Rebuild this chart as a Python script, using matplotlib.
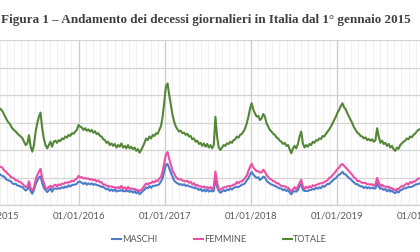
import matplotlib
matplotlib.use("Agg")
import matplotlib.pyplot as plt
import matplotlib.dates as mdates
import pandas as pd

# weekly samples (deaths per day), starting 01/01/2015
start = "2015-01-01"
step_days = 7

totale = [
    2280, 2300, 2250, 2290, 2260, 2240, 2200, 2140, 2080, 2020,
    1990, 1940, 1890, 1860, 1835, 1800, 1770, 1745, 1715, 1650,
    1590, 1620, 1770, 1560, 1470, 1590, 1830, 1985, 2105, 2180,
    1895, 1710, 1590, 1530, 1590, 1650, 1560, 1650, 1670, 1630,
    1680, 1660, 1710, 1695, 1745, 1725, 1775, 1755, 1805, 1795,
    1835, 1865, 1955, 1925, 1910, 1865, 1895, 1850, 1875, 1835,
    1865, 1815, 1840, 1790, 1805, 1755, 1745, 1695, 1680, 1630,
    1650, 1590, 1620, 1575, 1610, 1545, 1590, 1560, 1620, 1545,
    1575, 1530, 1590, 1530, 1560, 1515, 1545, 1485, 1515, 1450,
    1500, 1560, 1630, 1710, 1680, 1745, 1710, 1775, 1755, 1805,
    1795, 1865, 1935, 2105, 2380, 2650, 2710, 2500, 2320, 2135,
    2015, 1925, 1875, 1835, 1850, 1805, 1815, 1775, 1795, 1745,
    1755, 1695, 1710, 1650, 1670, 1610, 1630, 1575, 1620, 1560,
    1610, 1545, 1590, 1530, 1590, 2105, 1745, 1545, 1500, 1545,
    1590, 1575, 1620, 1610, 1650, 1630, 1680, 1695, 1745, 1725,
    1775, 1795, 1835, 1895, 1985, 2105, 2255, 2350, 2230, 2165,
    2105, 2120, 2045, 2075, 2155, 2105, 1985, 1925, 1865, 1835,
    1795, 1775, 1730, 1710, 1670, 1650, 1610, 1630, 1575, 1590,
    1515, 1440, 1530, 1575, 1530, 1610, 1745, 1835, 1620, 1545,
    1590, 1560, 1610, 1590, 1650, 1630, 1680, 1670, 1710, 1700,
    1755, 1745, 1795, 1835, 1875, 1925, 1985, 2045, 2105, 2180,
    2230, 2300, 2350, 2275, 2240, 2165, 2105, 2045, 1985, 1910,
    1865, 1815, 1795, 1755, 1745, 1710, 1730, 1680, 1700, 1670,
    1695, 1650, 1680, 1895, 1745, 1630, 1670, 1610, 1630, 1575,
    1610, 1545, 1575, 1515, 1485, 1545, 1520, 1590, 1620, 1650,
    1670, 1710, 1695, 1745, 1730, 1775, 1795, 1835, 1865, 1880,
    1900,
]

maschi = [
    1074, 1070, 1056, 1068, 1067, 1044, 1026, 1016, 972, 953,
    942, 931, 893, 880, 886, 854, 850, 830, 829, 791,
    763, 786, 839, 753, 705, 774, 873, 943, 999, 1022,
    903, 812, 774, 736, 763, 801, 742, 798, 800, 794,
    806, 798, 823, 810, 838, 820, 859, 836, 863, 866,
    872, 888, 925, 924, 903, 883, 906, 869, 893, 875,
    894, 866, 880, 863, 857, 843, 830, 827, 806, 783,
    801, 757, 783, 753, 784, 744, 763, 756, 772, 751,
    753, 749, 761, 738, 756, 725, 751, 713, 742, 696,
    723, 756, 777, 820, 805, 844, 813, 848, 846, 857,
    863, 880, 929, 989, 1116, 1231, 1247, 1165, 1083, 1017,
    944, 913, 896, 872, 880, 860, 879, 846, 858, 841,
    832, 821, 812, 804, 801, 773, 791, 750, 783, 745,
    784, 744, 763, 746, 757, 996, 830, 757, 721, 746,
    771, 750, 783, 770, 804, 781, 808, 824, 827, 828,
    845, 869, 876, 898, 951, 985, 1059, 1098, 1052, 1019,
    991, 1006, 955, 981, 1013, 1002, 941, 913, 891, 872,
    863, 845, 836, 813, 803, 801, 767, 788, 753, 774,
    729, 693, 746, 750, 743, 770, 844, 876, 778, 754,
    757, 753, 770, 774, 791, 783, 816, 797, 820, 807,
    849, 831, 858, 886, 882, 918, 940, 972, 989, 1028,
    1049, 1070, 1106, 1061, 1057, 1019, 991, 969, 937, 910,
    880, 879, 856, 838, 841, 809, 830, 805, 821, 801,
    816, 801, 802, 903, 830, 794, 801, 773, 791, 750,
    778, 743, 767, 729, 716, 754, 727, 768, 775, 804,
    801, 815, 824, 827, 830, 845, 869, 876, 883, 898,
    894,
]

femmine = [
    1206, 1230, 1194, 1222, 1193, 1196, 1174, 1124, 1108, 1067,
    1048, 1009, 997, 980, 949, 946, 920, 915, 886, 859,
    827, 834, 931, 807, 765, 816, 957, 1042, 1106, 1158,
    992, 898, 816, 794, 827, 849, 818, 852, 870, 836,
    874, 862, 887, 885, 907, 905, 916, 919, 942, 929,
    963, 977, 1030, 1001, 1007, 982, 989, 981, 982, 960,
    971, 949, 960, 927, 948, 912, 915, 868, 874, 847,
    849, 833, 837, 822, 826, 801, 827, 804, 848, 794,
    822, 781, 829, 792, 804, 790, 794, 772, 773, 754,
    777, 804, 853, 890, 875, 901, 897, 927, 909, 948,
    932, 985, 1006, 1116, 1264, 1419, 1463, 1335, 1237, 1118,
    1071, 1012, 979, 963, 970, 945, 936, 929, 937, 904,
    923, 874, 898, 846, 869, 837, 839, 825, 837, 815,
    826, 801, 827, 784, 833, 1109, 915, 788, 779, 799,
    819, 825, 837, 840, 846, 849, 872, 871, 918, 897,
    930, 926, 959, 997, 1034, 1120, 1196, 1252, 1178, 1146,
    1114, 1114, 1090, 1094, 1142, 1103, 1044, 1012, 974, 963,
    932, 930, 894, 897, 867, 849, 843, 842, 822, 816,
    786, 747, 784, 825, 787, 840, 901, 959, 842, 791,
    833, 807, 840, 816, 859, 847, 864, 873, 890, 893,
    906, 914, 937, 949, 993, 1007, 1045, 1073, 1116, 1152,
    1181, 1230, 1244, 1214, 1183, 1146, 1114, 1076, 1048, 1000,
    985, 936, 939, 917, 904, 901, 900, 875, 879, 869,
    879, 849, 878, 992, 915, 836, 869, 837, 839, 825,
    832, 802, 808, 786, 769, 791, 793, 822, 845, 846,
    869, 895, 871, 918, 900, 930, 926, 959, 982, 982,
    1006,
]

titolo = "Figura 1 \u2013 Andamento dei decessi giornalieri in Italia dal 1\u00b0 gennaio 2015"
etichette = ["MASCHI", "FEMMINE", "TOTALE"]
colori = ["#4a7cc9", "#ea4fa3", "#538637"]

date = pd.date_range(start, periods=len(totale), freq=f"{step_days}D")

W, H = 420, 252
# the chart is cropped: 01/01/2015 sits just left of the picture, 01/01/2020 just right of it
x0, x1 = -7.3, 424.0
fig = plt.figure(figsize=(W / 100, H / 100), dpi=100)
ax = fig.add_axes([x0 / W, (H - 205) / H, (x1 - x0) / W, (205 - 40) / H])

for serie, lab, col in zip([maschi, femmine, totale], etichette, colori):
    ax.plot(date, serie, color=col, lw=1.5, label=lab)

ax.set_xlim(pd.Timestamp("2015-01-01"), pd.Timestamp("2020-01-05"))
ax.set_ylim(500, 3500)
ax.set_yticks(range(500, 3501, 500))
ax.yaxis.set_ticklabels([])

ax.xaxis.set_major_locator(mdates.YearLocator())
ax.xaxis.set_minor_locator(mdates.MonthLocator())
ax.xaxis.set_major_formatter(mdates.DateFormatter("%d/%m/%Y"))
ax.tick_params(axis="both", which="both", length=0)
ax.tick_params(axis="x", labelsize=6.8, labelcolor="#595959", pad=5)
for lbl in ax.get_xticklabels():
    lbl.set_fontfamily("Lato")

ax.grid(axis="y", color="#d4d4d4", lw=0.9)
ax.grid(axis="x", which="major", color="#cccccc", lw=0.9)
ax.grid(axis="x", which="minor", color="#eeeeee", lw=0.6)
ax.set_axisbelow(True)
for s in ["left", "right", "top"]:
    ax.spines[s].set_visible(False)
ax.spines["bottom"].set_color("#d0d0d0")
ax.spines["bottom"].set_linewidth(0.9)

fig.legend(loc="center", bbox_to_anchor=(0.523, 12 / H), ncol=3, frameon=False,
           handlelength=1.0, handletextpad=0.1, columnspacing=4.0,
           prop={"family": "Lato", "size": 6.6}, labelcolor="#595959")

t = fig.text(0.003, 1 - 20 / H, titolo, ha="left", va="center",
             family="Liberation Serif", fontweight="bold", fontsize=9, color="#3f3f3f")
fig.canvas.draw()
w = t.get_window_extent().width
t.set_fontsize(9 * 411 / w)

fig.savefig("out.png", dpi=100)
